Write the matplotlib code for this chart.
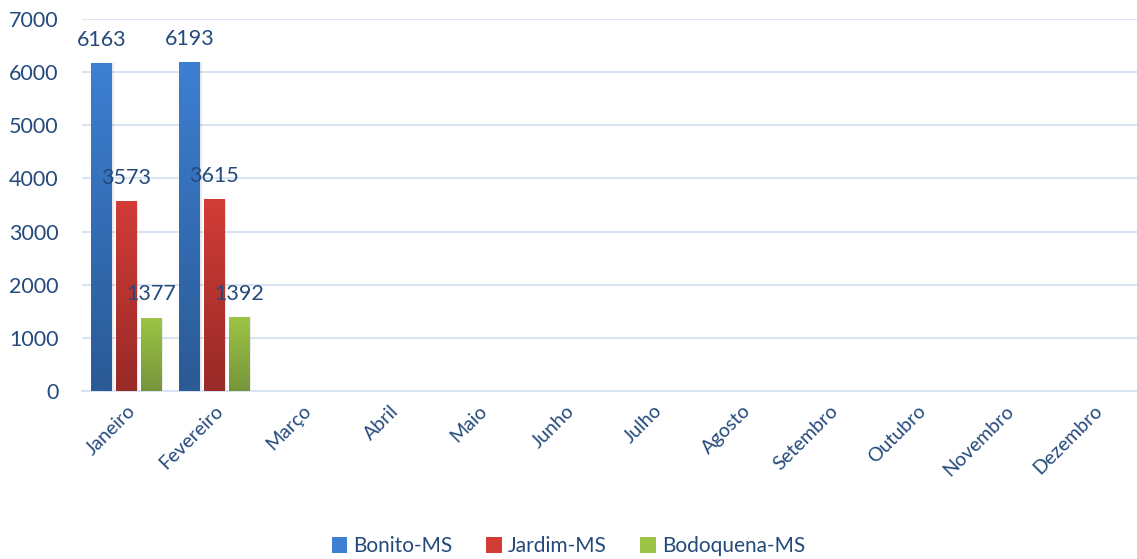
import matplotlib
matplotlib.use("Agg")
import matplotlib.pyplot as plt
import numpy as np
from matplotlib.colors import LinearSegmentedColormap
from matplotlib.patches import Patch

months = ["Janeiro", "Fevereiro", "Março", "Abril", "Maio", "Junho", "Julho",
          "Agosto", "Setembro", "Outubro", "Novembro", "Dezembro"]
series_names = ["Bonito-MS", "Jardim-MS", "Bodoquena-MS"]
bonito = [6163, 6193]
jardim = [3573, 3615]
bodoquena = [1377, 1392]

top_colors = ["#3D7FD2", "#D23C37", "#9DC446"]
bot_colors = ["#2B5A95", "#982A27", "#76953A"]
text_color = "#244A7C"

plt.rcParams['font.family'] = ['Lato', 'DejaVu Sans']

fig = plt.figure(figsize=(11.37, 5.59), dpi=100)
ax = fig.add_axes([0.0725, 0.3005, 0.9275, 0.6655])

x = np.arange(len(months))
width = 0.235
step = 0.28
all_series = [bonito, jardim, bodoquena]
grad = np.linspace(0, 1, 256).reshape(-1, 1)
for i, vals in enumerate(all_series):
    xs = x[:len(vals)] + (i - 1) * step
    bars = ax.bar(xs, vals, width=width, color="none", edgecolor="none", zorder=3)
    cmap = LinearSegmentedColormap.from_list(f"g{i}", [bot_colors[i], top_colors[i]])
    for b, v in zip(bars, vals):
        x0 = b.get_x()
        w = b.get_width()
        h = b.get_height()
        # shadow
        ax.bar(x0 + w / 2 + 0.02, h, width=w, color="#000000", alpha=0.08, zorder=2)
        im = ax.imshow(grad, extent=[x0, x0 + w, 0, h], origin="lower",
                       cmap=cmap, aspect="auto", zorder=3)
        im.set_clip_path(b)
        ax.text(x0 + w / 2, h + 440, str(v), ha="center", va="center",
                fontsize=15.5, color=text_color, zorder=5)

ax.set_xlim(-0.5, len(months) - 0.5)
ax.set_ylim(0, 7000)
ax.set_yticks(np.arange(0, 7001, 1000))
ax.yaxis.grid(True, color="#D9E4F2", linewidth=1.5)
ax.set_axisbelow(True)
for s in ["top", "right", "left"]:
    ax.spines[s].set_visible(False)
ax.spines["bottom"].set_color("#D9E4F2")
ax.spines["bottom"].set_linewidth(1.5)
ax.tick_params(axis="both", length=0, colors=text_color, labelsize=15.5)
ax.tick_params(axis="y", pad=17)
ax.set_xticks(x)
ax.set_xticklabels(months, rotation=45, ha="right", va="top",
                   rotation_mode="anchor", fontsize=14, color=text_color)
ax.tick_params(axis="x", pad=8)

handles = [Patch(facecolor=top_colors[i], edgecolor="none") for i in range(3)]
fig.legend(handles, series_names, loc="center", bbox_to_anchor=(0.5, 0.023),
           ncol=3, frameon=False, fontsize=15, labelcolor=text_color,
           handlelength=0.75, handleheight=0.75, handletextpad=0.3, columnspacing=1.6)

fig.savefig("out.png", dpi=100)
